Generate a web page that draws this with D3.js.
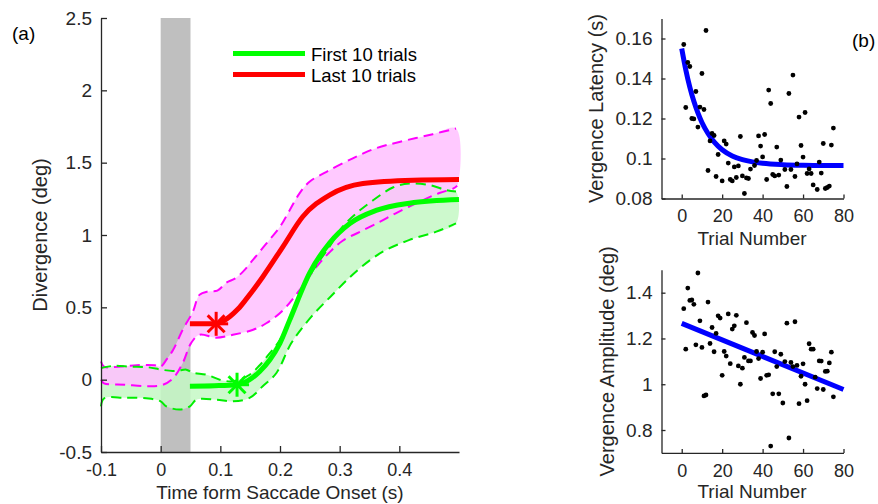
<!DOCTYPE html>
<html>
<head>
<meta charset="utf-8">
<script src="https://cdn.jsdelivr.net/npm/d3@7"></script>
<style>
body { margin: 0; background: #fff; }
svg { display: block; font-family: "Liberation Sans", Arial, sans-serif; }
</style>
</head>
<body>
<svg id="chart" width="878" height="504"></svg>
<script>
// panel (a): divergence traces, [time (s), divergence (deg)]
const firstMean = [[0.049,-0.045],[0.09,-0.042],[0.128,-0.035],[0.149,0.0],[0.166,0.057],[0.183,0.138],[0.2,0.253],[0.216,0.41],[0.25,0.74],[0.283,0.945],[0.317,1.08],[0.361,1.17],[0.417,1.22],[0.5,1.245]];
const lastMean = [[0.049,0.386],[0.093,0.386],[0.105,0.405],[0.116,0.437],[0.13,0.49],[0.144,0.56],[0.171,0.71],[0.205,0.92],[0.238,1.126],[0.283,1.276],[0.339,1.356],[0.423,1.379],[0.5,1.384]];
const firstUpper = [[-0.1,0.08],[-0.08,0.095],[-0.05,0.09],[-0.02,0.085],[0.0,0.07],[0.02,0.06],[0.032,0.064],[0.043,0.069],[0.054,0.048],[0.077,0.034],[0.099,0.0],[0.121,-0.011],[0.149,0.034],[0.166,0.1],[0.183,0.184],[0.2,0.276],[0.22,0.46],[0.25,0.72],[0.283,0.92],[0.305,1.057],[0.328,1.15],[0.356,1.24],[0.39,1.33],[0.417,1.356],[0.451,1.345],[0.479,1.31],[0.495,1.3]];
const firstLower = [[-0.1,-0.184],[-0.095,-0.13],[-0.06,-0.125],[-0.02,-0.13],[0.0,-0.15],[0.0095,-0.184],[0.032,-0.207],[0.049,-0.184],[0.06,-0.138],[0.093,-0.138],[0.121,-0.15],[0.149,-0.126],[0.171,-0.046],[0.194,0.046],[0.219,0.253],[0.253,0.437],[0.285,0.575],[0.318,0.712],[0.352,0.83],[0.378,0.897],[0.417,0.966],[0.462,1.023],[0.495,1.08]];
const lastUpper = [[-0.1,0.125],[-0.095,0.09],[-0.07,0.09],[-0.04,0.1],[-0.01,0.1],[0.0,0.09],[0.01,0.14],[0.021,0.207],[0.037,0.345],[0.054,0.47],[0.065,0.586],[0.08,0.61],[0.095,0.615],[0.11,0.67],[0.125,0.7],[0.138,0.747],[0.155,0.83],[0.177,0.94],[0.2,1.057],[0.216,1.17],[0.233,1.29],[0.25,1.37],[0.278,1.437],[0.322,1.53],[0.361,1.6],[0.4,1.643],[0.456,1.697],[0.495,1.736]];
const lastLower = [[-0.1,0.0],[-0.095,-0.025],[-0.06,-0.035],[-0.02,-0.045],[0.004,-0.035],[0.021,0.01],[0.037,0.115],[0.051,0.253],[0.065,0.31],[0.093,0.29],[0.121,0.31],[0.155,0.345],[0.177,0.39],[0.205,0.48],[0.233,0.62],[0.261,0.78],[0.283,0.88],[0.305,0.96],[0.333,1.02],[0.367,1.09],[0.394,1.15],[0.434,1.23],[0.467,1.29],[0.49,1.32],[0.497,1.34]];
const firstOnset = [0.128, -0.035];
const lastOnset = [0.093, 0.386];
const saccadeWindow = [0, 0.05];
const legendLabels = ["First 10 trials", "Last 10 trials"];

const timeTicks = [-0.1, 0, 0.1, 0.2, 0.3, 0.4];
const timeTickLabels = ["-0.1", "0", "0.1", "0.2", "0.3", "0.4"];
const divTicks = [-0.5, 0, 0.5, 1, 1.5, 2, 2.5];
const divTickLabels = ["-0.5", "0", "0.5", "1", "1.5", "2", "2.5"];

// panel (b): per-trial latency and amplitude
const latencyTrials = [1,2,3,4,5,6,7,8,9,10,11,12,13,14,15,16,17,18,20,21,22,23,24,25,26,27,28,29,30,31,32,33,34,36,37,38,39,40,41,42,43,44,45,46,47,48,49,51,52,53,54,55,56,57,58,59,60,61,62,63,64,65,67,68,69,70,71,72,73,74,75];
const latency = [0.157,0.1255,0.148,0.146,0.120,0.1198,0.1335,0.1157,0.1257,0.1425,0.1245,0.164,0.094,0.1088,0.1125,0.1115,0.091,0.102,0.0888,0.1088,0.1072,0.0977,0.0895,0.0888,0.0958,0.0905,0.0963,0.111,0.0913,0.0825,0.0903,0.090,0.0947,0.0965,0.099,0.1113,0.1062,0.1008,0.112,0.0895,0.1342,0.1275,0.092,0.0913,0.1057,0.0917,0.0992,0.0945,0.086,0.1325,0.0945,0.1417,0.091,0.0973,0.1207,0.1065,0.1007,0.123,0.0925,0.0948,0.0925,0.0868,0.0845,0.0982,0.0927,0.1075,0.085,0.0855,0.0862,0.1067,0.1152];
const latencyFitTrials = [0,2,4,6,8,10,13,16,20,25,30,35,40,50,60,70,80];
const latencyFit = [0.155,0.1444,0.1357,0.1286,0.1228,0.118,0.1125,0.1083,0.1044,0.1013,0.0994,0.0983,0.0976,0.0969,0.0966,0.0965,0.0965];

const amplitudeTrials = [1,2,3,4,5,6,7,8,9,10,11,12,13,14,15,16,17,18,19,20,21,22,23,24,25,26,27,28,29,30,31,32,33,34,35,36,37,38,39,40,41,42,43,44,45,46,47,48,49,50,51,52,53,54,55,56,57,58,59,60,61,62,63,64,65,66,67,68,69,70,71,72,73,74,75];
const amplitude = [1.330,1.153,1.420,1.366,1.368,1.349,1.172,1.486,1.277,1.161,0.949,0.953,1.359,1.178,1.248,1.142,1.222,1.299,1.289,1.039,1.143,1.123,1.307,1.090,1.241,1.255,1.301,1.080,1.000,1.070,1.117,1.269,1.102,1.102,1.226,1.213,1.143,1.112,1.025,1.140,1.220,1.039,1.041,0.730,0.958,1.142,1.077,0.958,1.131,0.918,1.099,1.267,0.765,1.095,1.077,1.273,1.082,0.915,1.035,1.089,1.000,0.928,1.177,1.153,1.153,1.031,0.981,1.102,1.101,0.977,1.056,1.057,1.093,1.140,0.945];
const amplitudeFitTrials = [0, 80];
const amplitudeFit = [1.266, 0.977];

const trialTicks = [0, 20, 40, 60, 80];
const latencyTicks = [0.08, 0.1, 0.12, 0.14, 0.16];
const latencyTickLabels = ["0.08", "0.1", "0.12", "0.14", "0.16"];
const amplitudeTicks = [0.8, 1, 1.2, 1.4];
const amplitudeTickLabels = ["0.8", "1", "1.2", "1.4"];

const ink = "#262626";
const svg = d3.select("#chart");

function styleAxis(g, size) {
    g.select(".domain").attr("stroke", ink).attr("stroke-width", 1.3);
    g.selectAll(".tick line").attr("stroke", ink).attr("stroke-width", 1.3);
    g.selectAll("text").attr("fill", ink).attr("font-size", size)
        .attr("font-family", "'Liberation Sans', Arial, sans-serif");
}

// ---------- panel (a) ----------
const x = d3.scaleLinear().domain([-0.1, 0.5]).range([101, 459]);
const y = d3.scaleLinear().domain([-0.5, 2.5]).range([452, 18]);

svg.append("rect")
    .attr("x", x(saccadeWindow[0]))
    .attr("width", x(saccadeWindow[1]) - x(saccadeWindow[0]))
    .attr("y", y(2.5))
    .attr("height", y(-0.5) - y(2.5))
    .attr("fill", "#bfbfbf");

const bound = d3.line().x((d) => x(d[0])).y((d) => y(d[1])).curve(d3.curveCatmullRom);
const smooth = d3.line().x((d) => x(d[0])).y((d) => y(d[1])).curve(d3.curveMonotoneX);

svg.append("path")
    .attr("d", bound(firstUpper.concat(firstLower.slice().reverse())) + "Z")
    .attr("fill", "#c4f8c4")
    .attr("fill-opacity", 0.85);
svg.append("path")
    .attr("d", bound(lastUpper.concat(lastLower.slice().reverse())) + "Z")
    .attr("fill", "#ffbfff")
    .attr("fill-opacity", 0.85);

[[lastUpper, "#ff00ff"], [lastLower, "#ff00ff"], [firstUpper, "#00ee00"], [firstLower, "#00ee00"]].forEach((s) => {
    svg.append("path")
        .attr("d", bound(s[0]))
        .attr("fill", "none")
        .attr("stroke", s[1])
        .attr("stroke-width", 2)
        .attr("stroke-dasharray", "10,6");
});

svg.append("path").attr("d", smooth(firstMean)).attr("fill", "none")
    .attr("stroke", "#00ff00").attr("stroke-width", 5);
svg.append("path").attr("d", smooth(lastMean)).attr("fill", "none")
    .attr("stroke", "#ff0000").attr("stroke-width", 5);

function asterisk(p, color) {
    const cx = x(p[0]), cy = y(p[1]), r = 12;
    const g = svg.append("g");
    [0, 45, 90, 135].forEach((a) => {
        const t = (a * Math.PI) / 180;
        g.append("line")
            .attr("x1", cx - r * Math.cos(t)).attr("y1", cy - r * Math.sin(t))
            .attr("x2", cx + r * Math.cos(t)).attr("y2", cy + r * Math.sin(t))
            .attr("stroke", color).attr("stroke-width", 3);
    });
}
asterisk(firstOnset, "#00ff00");
asterisk(lastOnset, "#ff0000");

const xAxisA = svg.append("g").attr("transform", "translate(0,452)")
    .call(d3.axisBottom(x).tickValues(timeTicks).tickFormat((d, i) => timeTickLabels[i])
        .tickSizeInner(-6).tickSizeOuter(0).tickPadding(11));
styleAxis(xAxisA, 18);
const yAxisA = svg.append("g").attr("transform", "translate(101,0)")
    .call(d3.axisLeft(y).tickValues(divTicks).tickFormat((d, i) => divTickLabels[i])
        .tickSizeInner(-6).tickSizeOuter(0).tickPadding(9));
styleAxis(yAxisA, 19);

svg.append("text").attr("x", 280).attr("y", 499).attr("text-anchor", "middle")
    .attr("font-size", 19).attr("fill", ink).text("Time form Saccade Onset (s)");
svg.append("text").attr("transform", "translate(47,235) rotate(-90)").attr("text-anchor", "middle")
    .attr("font-size", 20).attr("fill", ink).text("Divergence (deg)");
svg.append("text").attr("x", 12).attr("y", 40).attr("font-size", 19).attr("fill", "#000").text("(a)");

// legend
[["#00ff00", 53.5], ["#ff0000", 74.5]].forEach((l, i) => {
    svg.append("line").attr("x1", 233).attr("x2", 305).attr("y1", l[1]).attr("y2", l[1])
        .attr("stroke", l[0]).attr("stroke-width", 5);
    svg.append("text").attr("x", 311).attr("y", l[1] + 7).attr("font-size", 18.5)
        .attr("fill", "#000").text(legendLabels[i]);
});

// ---------- panel (b) ----------
function scatterPanel(o) {
    const sx = d3.scaleLinear().domain([-10, 80]).range([661.5, 843.5]);
    const sy = d3.scaleLinear().domain(o.domain).range(o.range);
    const g = svg.append("g");
    const fit = d3.line().x((d, i) => sx(o.fitX[i])).y((d) => sy(d)).curve(d3.curveMonotoneX);
    g.append("path").attr("d", fit(o.fitY)).attr("fill", "none")
        .attr("stroke", "#0000ff").attr("stroke-width", 5);
    g.selectAll("circle").data(o.values).enter().append("circle")
        .attr("cx", (d, i) => sx(o.trials[i]))
        .attr("cy", (d) => sy(d))
        .attr("r", 2.4)
        .attr("fill", "#000");
    const xa = g.append("g").attr("transform", `translate(0,${o.range[0]})`)
        .call(d3.axisBottom(sx).tickValues(trialTicks).tickSizeInner(-4).tickSizeOuter(0).tickPadding(11));
    styleAxis(xa, 18);
    const ya = g.append("g").attr("transform", "translate(661.5,0)")
        .call(d3.axisLeft(sy).tickValues(o.ticks).tickFormat((d, i) => o.tickLabels[i])
            .tickSizeInner(-4).tickSizeOuter(0).tickPadding(9));
    styleAxis(ya, 19);
    g.append("text").attr("x", 752).attr("y", o.xLabelY).attr("text-anchor", "middle")
        .attr("font-size", 19).attr("fill", ink).text("Trial Number");
    g.append("text").attr("transform", `translate(${o.yLabelX},${(o.range[0] + o.range[1]) / 2}) rotate(-90)`)
        .attr("text-anchor", "middle").attr("font-size", 20).attr("fill", ink).text(o.yLabel);
}

scatterPanel({
    trials: latencyTrials, values: latency, fitX: latencyFitTrials, fitY: latencyFit,
    domain: [0.08, 0.17], range: [198.5, 18.5],
    ticks: latencyTicks, tickLabels: latencyTickLabels,
    xLabelY: 245, yLabelX: 603, yLabel: "Vergence Latency (s)"
});
scatterPanel({
    trials: amplitudeTrials, values: amplitude, fitX: amplitudeFitTrials, fitY: amplitudeFit,
    domain: [0.7, 1.5], range: [452.9, 269.8],
    ticks: amplitudeTicks, tickLabels: amplitudeTickLabels,
    xLabelY: 498, yLabelX: 614, yLabel: "Vergence Amplitude (deg)"
});
svg.append("text").attr("x", 852).attr("y", 47).attr("font-size", 19).attr("fill", "#000").text("(b)");
</script>
</body>
</html>
